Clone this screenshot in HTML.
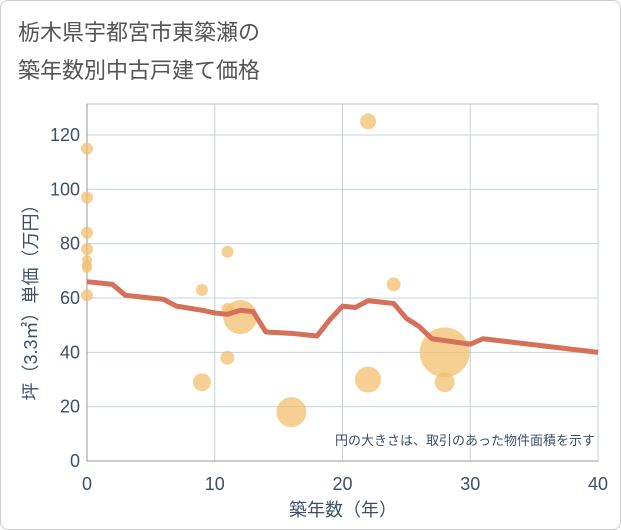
<!DOCTYPE html>
<html><head><meta charset="utf-8"><style>
body{margin:0;background:#fff;}
#wrap{position:relative;width:619px;height:528px;border:1px solid #ccc;border-radius:8px;overflow:hidden;font-family:"Liberation Sans","Noto Sans CJK JP",sans-serif;}
#title{position:absolute;left:17px;top:13px;font-size:22px;line-height:38px;color:#555;}
</style></head><body>
<div id="wrap">
<div id="title">栃木県宇都宮市東簗瀬の<br>築年数別中古戸建て価格</div>
<svg id="chart" width="621" height="530" style="position:absolute;left:0;top:0"></svg>
</div>
<script>
const xTicks=[0,10,20,30,40];
const yTicks=[0,20,40,60,80,100,120];
const lineYears=[0,2,3,6,7,9,10,11,12,13,14,16,18,19,20,21,22,24,25,26,27,30,31,40];
const lineValues=[66,65,61,59.5,57,55.5,54.5,54,55.5,55,47.5,47,46,52,57,56.5,59,58,52.5,49.5,45,43,45,40];
const bubbleYears=[0,0,0,0,0,0,0,0,9,11,11,12,11,9,16,22,24,22,28,28];
const bubbleValues=[115,97,84,78,74,72,71,61,63,77,56,53,38,29,18,125,65,30,40,29];
const bubbleSizes=[6,6,6,6,5,5,5,6,6,6,6,17,7,9,15,8,7,13,25,10];
const NS="http://www.w3.org/2000/svg";
const svg=document.getElementById('chart');
const X0=86,X1=597,Y0=460,Y1=134;
const xs=v=>X0+(v/40)*(X1-X0);
const ys=v=>Y0-(v/120)*(Y0-Y1);
function mk(t,a){const e=document.createElementNS(NS,t);for(const k in a)e.setAttribute(k,a[k]);svg.appendChild(e);return e;}
mk('rect',{x:X0,y:103,width:X1-X0,height:Y0-103,fill:'none',stroke:'#bbb'});
xTicks.forEach(t=>{
 const l=mk('line',{x1:xs(t),x2:xs(t),y1:103,y2:Y0,stroke:'#c5d0dc','stroke-width':1});
 
 
 const tx=mk('text',{x:xs(t),y:489,'text-anchor':'middle','font-size':18,fill:'#3d5068'});
 tx.textContent=t;
 
 
});
yTicks.forEach(t=>{
 const l=mk('line',{x1:X0,x2:X1,y1:ys(t),y2:ys(t),stroke:'#c5d0dc','stroke-width':1});
 
 
 const tx=mk('text',{x:79,y:ys(t)+6,'text-anchor':'end','font-size':18,fill:'#3d5068'});
 tx.textContent=t;
 
 
});
mk('line',{x1:X0,x2:X1,y1:Y0,y2:Y0,stroke:'#999'});
mk('line',{x1:X0,x2:X0,y1:103,y2:Y0,stroke:'#999'});
bubbleYears.forEach((yr,i)=>{
 const c=mk('circle',{cx:xs(yr),cy:ys(bubbleValues[i]),r:bubbleSizes[i],fill:'#f3c06f','fill-opacity':0.75});
 
 
});
const p=mk('polyline',{points:lineYears.map((y,i)=>xs(y)+','+ys(lineValues[i])).join(' '),fill:'none',stroke:'#d5705a','stroke-width':5,'stroke-linejoin':'round'});


const note=mk('text',{x:594,y:444,'text-anchor':'end','font-size':13,fill:'#3d5068'});
note.textContent='円の大きさは、取引のあった物件面積を示す';


const xt=mk('text',{x:342,y:515,'text-anchor':'middle','font-size':18,fill:'#3d5068'});
xt.textContent='築年数（年）';


const yt=mk('text',{x:0,y:0,'text-anchor':'middle','font-size':18,fill:'#3d5068',transform:'translate(36,297) rotate(-90)'});
yt.textContent='坪（3.3㎡）単価（万円）';


</script>
</body></html>
